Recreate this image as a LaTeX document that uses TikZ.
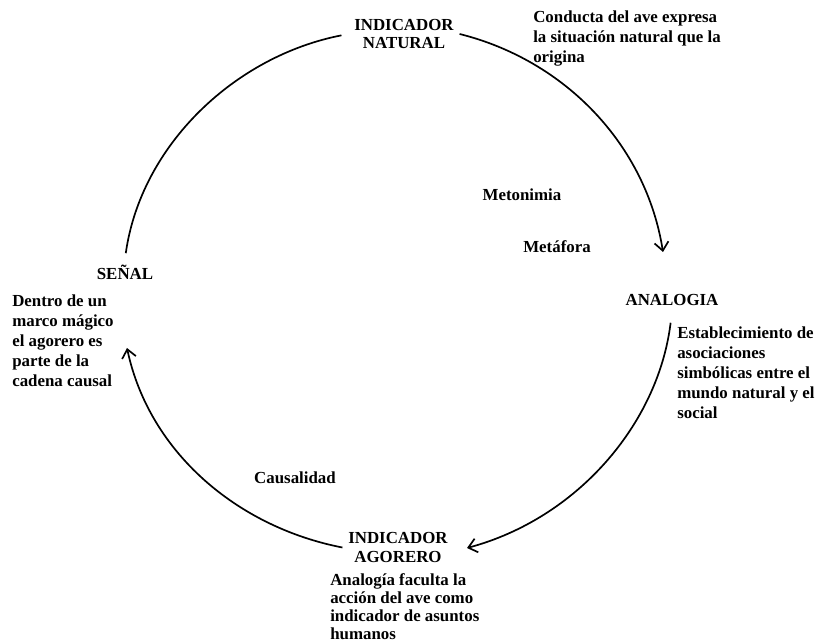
\documentclass[tikz,border=0pt]{standalone}
\usepackage{fontspec}
\setmainfont{Liberation Serif}
\usetikzlibrary{arrows.meta}
\tikzset{
  etiqueta/.style={font=\bfseries\fontsize{12}{13.2}\selectfont, align=center, inner sep=4pt},
  nota/.style={font=\bfseries\fontsize{12}{14.2}\selectfont, align=left, inner sep=0pt, anchor=north west},
  tropo/.style={font=\bfseries\fontsize{12}{14}\selectfont, inner sep=0pt},
  arco/.style={line width=1.2pt, looseness=0.93},
  flecha/.style={arco, -{Straight Barb[length=6pt,width=10pt]}}
}
\begin{document}
\begin{tikzpicture}[x=0.025cm,y=0.025cm]
\useasboundingbox (-395,-350) rectangle (425,293);

\node[etiqueta] (natural) at (9,259) {INDICADOR\\NATURAL};
\node[etiqueta] (analogia) at (277,-7) {ANALOGIA};
\node[etiqueta] (agorero) at (3,-254.5) {INDICADOR\\AGORERO};
\node[etiqueta] (senal) at (-270,21) {SEÑAL};

\node[nota] (conducta) at (138,282) {Conducta del ave expresa\\la situación natural que la\\origina};
\node[nota] (establecimiento) at (282,-34) {Establecimiento de\\asociaciones\\simbólicas entre el\\mundo natural y el\\social};
\node[nota,font=\bfseries\fontsize{12}{12.9}\selectfont] (faculta) at (-65,-280) {Analogía faculta la\\acción del ave como\\indicador de asuntos\\humanos};
\node[nota] (dentro) at (-383,-2) {Dentro de un\\marco mágico\\el agorero es\\parte de la\\cadena causal};

\node[tropo] (metonimia) at (127,98) {Metonimia};
\node[tropo] (metafora) at (162,46) {Metáfora};
\node[tropo] (causalidad) at (-100,-185) {Causalidad};

\coordinate (hacia-analogia) at (268,41);
\coordinate (hacia-agorero) at (72,-255);
\coordinate (hacia-senal) at (-268,-55);

\draw[flecha] (natural.east) to[out=-14,in=99] (hacia-analogia);
\draw[flecha,shorten <=8pt] (analogia.south) to[out=-97,in=15] (hacia-agorero);
\draw[flecha] (agorero.west) to[out=169,in=-78] (hacia-senal);
\draw[arco,shorten <=4pt,shorten >=5pt] (senal.north) to[out=82,in=191] (natural.west);
\end{tikzpicture}
\end{document}
